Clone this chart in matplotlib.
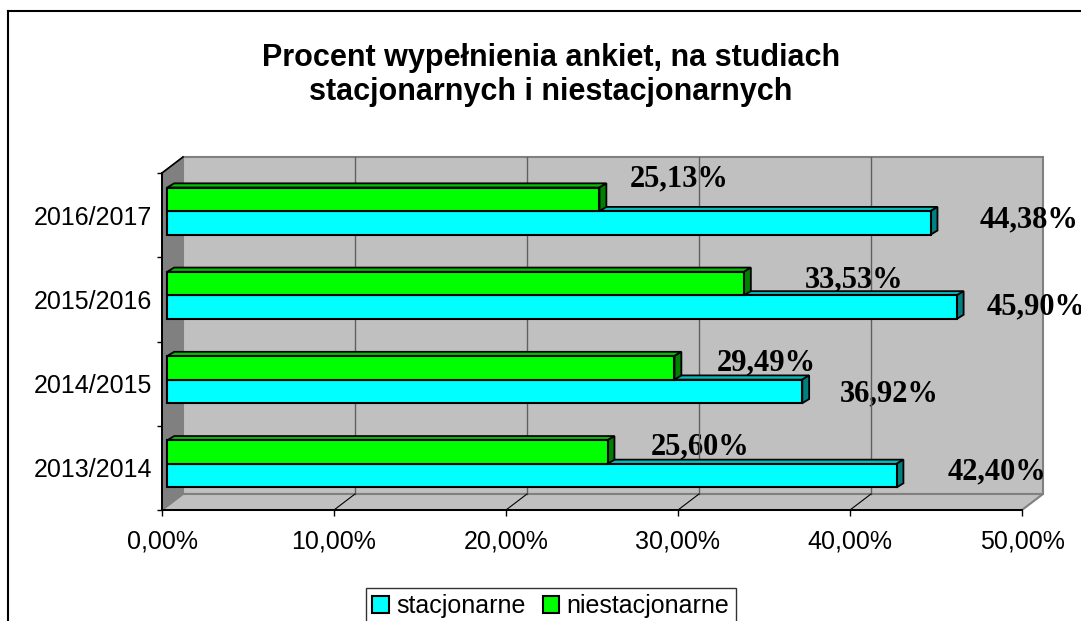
import matplotlib.pyplot as plt
from matplotlib.patches import Polygon, Patch
from matplotlib.lines import Line2D
import numpy as np

plt.rcParams['font.family'] = ['Liberation Sans', 'DejaVu Sans']

years = ['2013/2014', '2014/2015', '2015/2016', '2016/2017']
stacjonarne = [42.40, 36.92, 45.90, 44.38]
niestacjonarne = [25.60, 29.49, 33.53, 25.13]
xticks = [0, 10, 20, 30, 40, 50]

# hand nudges of the value labels (pixels), as placed in the original
stac_dx = [51, 38, 30, 49]
stac_dy = [4, -2, 0, 3]
nies_dx = [43, 42, 61, 30]
nies_dy = [5, 5, 4, 20]

# fake 3d: depth vector of the walls in data units, bars start at f0 of depth
DX, DY = 1.221, 0.19
f0 = 0.25
BDX, BDY = 0.4, 0.05   # depth of the bars themselves
h = 0.28


def pct(v):
    return f'{v:.2f}%'.replace('.', ',')


def bars3d(ax, ys, vals, front, top, side, z):
    x0 = f0 * DX
    for y, v in zip(ys, vals):
        yb = y + f0 * DY
        ax.add_patch(Polygon([(x0, yb + h), (x0 + v, yb + h), (x0 + v + BDX, yb + h + BDY),
                              (x0 + BDX, yb + h + BDY)], fc=top, ec='black', lw=1.3, zorder=z))
        ax.add_patch(Polygon([(x0 + v, yb), (x0 + v + BDX, yb + BDY), (x0 + v + BDX, yb + h + BDY),
                              (x0 + v, yb + h)], fc=side, ec='black', lw=1.3, zorder=z))
    ax.barh(np.array(ys) + f0 * DY, vals, height=h, left=x0, align='edge',
            color=front, edgecolor='black', linewidth=1.5, zorder=z + 0.5)


fig = plt.figure(figsize=(10.81, 6.21), dpi=100)
ax = fig.add_axes([162 / 1081, 111 / 621, 881 / 1081, 353 / 621])
ax.patch.set_visible(False)
ax.set_xlim(0, 50 + DX)
ax.set_ylim(-0.5, 3.5 + DY)

# walls and floor
ax.add_patch(Polygon([(DX, -0.5 + DY), (50 + DX, -0.5 + DY), (50 + DX, 3.5 + DY), (DX, 3.5 + DY)],
                     fc='#C0C0C0', ec='#808080', lw=1.5, zorder=0.5, clip_on=False))
ax.add_patch(Polygon([(0, -0.5), (0, 3.5), (DX, 3.5 + DY), (DX, -0.5 + DY)],
                     fc='#808080', ec='#808080', lw=1, zorder=0.6, clip_on=False))
ax.add_patch(Polygon([(0, -0.5), (50, -0.5), (50 + DX, -0.5 + DY), (DX, -0.5 + DY)],
                     fc='#C0C0C0', ec='#808080', lw=1.5, zorder=0.6, clip_on=False))
ax.plot([0, DX], [3.5, 3.5 + DY], color='black', lw=1.2, zorder=1, clip_on=False)
for t in xticks[1:-1]:
    ax.plot([t + DX, t + DX], [-0.5 + DY, 3.5 + DY], color='#606060', lw=1, zorder=1)
    ax.plot([t, t + DX], [-0.5, -0.5 + DY], color='black', lw=0.8, zorder=1)

ys = np.arange(len(years))
bars3d(ax, ys - h, stacjonarne, '#00FFFF', '#00C0C0', '#008080', 3)
bars3d(ax, ys, niestacjonarne, '#00FF00', '#00C000', '#008000', 5)

# value labels (sit behind the bars and gridlines, like the original)
lab = dict(ha='left', va='center', textcoords='offset points', annotation_clip=False,
           fontfamily='Liberation Serif', fontweight='bold', fontsize=22, zorder=0.8)
for i in range(len(years)):
    yc = ys[i] + f0 * DY
    ax.annotate(pct(stacjonarne[i]), xy=(f0 * DX + stacjonarne[i], yc - h / 2),
                xytext=(stac_dx[i] * 0.72, stac_dy[i] * 0.72), **lab)
    ax.annotate(pct(niestacjonarne[i]), xy=(f0 * DX + niestacjonarne[i], yc + h / 2),
                xytext=(nies_dx[i] * 0.72, nies_dy[i] * 0.72), **lab)

# axes
for s in ['top', 'right']:
    ax.spines[s].set_visible(False)
ax.spines['left'].set_bounds(-0.5, 3.5)
ax.spines['bottom'].set_bounds(0, 50)
for s in ['left', 'bottom']:
    ax.spines[s].set_linewidth(1.4)
    ax.spines[s].set_zorder(2)

ax.set_xticks(xticks, [pct(t) for t in xticks])
ax.set_yticks(ys, years)
ax.set_yticks(np.arange(-0.5, 4, 1), minor=True)
ax.tick_params(axis='x', length=4.3, width=1, pad=9.5, labelsize=18)
ax.tick_params(axis='y', which='major', length=0, pad=7.2, labelsize=18)
ax.tick_params(axis='y', which='minor', length=3.6, width=1)

fig.text(551 / 1081, 1 - 75 / 621,
         'Procent wypełnienia ankiet, na studiach\nstacjonarnych i niestacjonarnych',
         ha='center', va='center', fontsize=22, fontweight='bold', linespacing=1.15)

leg = fig.legend(handles=[Patch(fc='#00FFFF', ec='black', lw=1.5), Patch(fc='#00FF00', ec='black', lw=1.5)],
                 labels=['stacjonarne', 'niestacjonarne'], loc='upper center',
                 bbox_to_anchor=(551 / 1081, 1 - 588 / 621), ncol=2, fancybox=False,
                 edgecolor='black', fontsize=18, handlelength=0.65, handleheight=0.65,
                 handletextpad=0.3, columnspacing=0.7, borderpad=0.25, borderaxespad=0)
leg.get_frame().set_linewidth(1)

# chart area border (only left and top show in the crop)
fig.add_artist(Line2D([8 / 1081, 8 / 1081], [0, 1 - 11 / 621], color='black', lw=1.5))
fig.add_artist(Line2D([8 / 1081, 1], [1 - 11 / 621, 1 - 11 / 621], color='black', lw=1.5))

fig.savefig('out.png', dpi=100)
